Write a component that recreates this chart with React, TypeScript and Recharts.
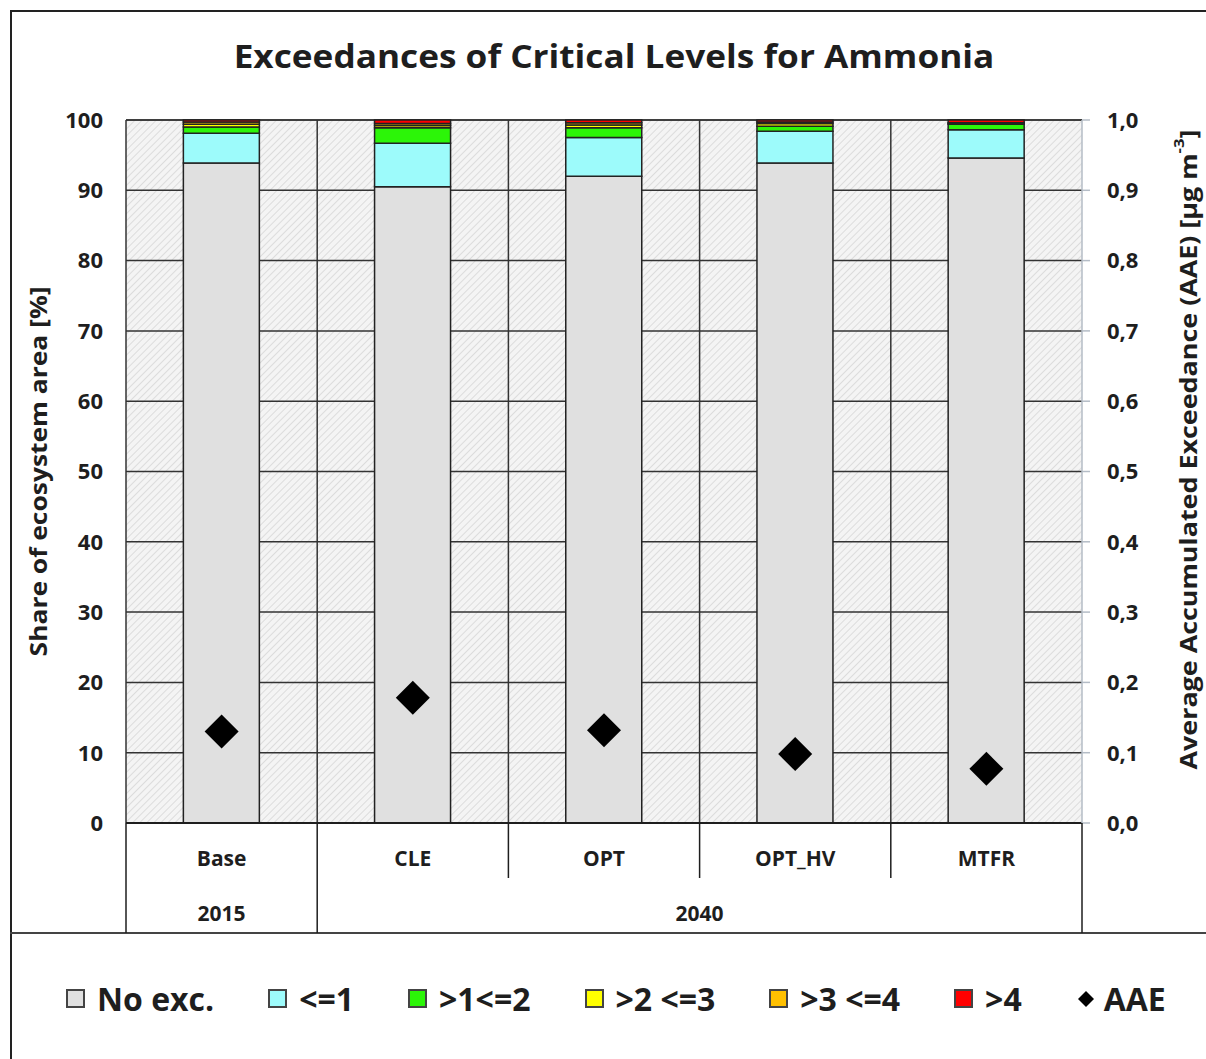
import React from "react";
import { ComposedChart, Bar, Scatter, XAxis, YAxis, CartesianGrid } from "recharts";

// scenario categories and their year groups
const categories = ["Base", "CLE", "OPT", "OPT_HV", "MTFR"];
const yearGroups = [
  { label: "2015", from: 0, to: 0 },
  { label: "2040", from: 1, to: 4 },
];

// share of ecosystem area [%] per exceedance class
const noExc = [93.9, 90.5, 92.0, 93.9, 94.6];
const le1 = [4.2, 6.2, 5.5, 4.5, 4.0];
const gt1le2 = [0.9, 2.2, 1.4, 0.7, 0.8];
const gt2le3 = [0.4, 0.3, 0.4, 0.4, 0.1];
const gt3le4 = [0.3, 0.3, 0.3, 0.2, 0.1];
const gt4 = [0.3, 0.5, 0.4, 0.3, 0.4];

// average accumulated exceedance [ug m-3]
const aae = [0.13, 0.178, 0.132, 0.098, 0.077];

const leftTicks = [0, 10, 20, 30, 40, 50, 60, 70, 80, 90, 100];
const rightTicks = [0, 0.1, 0.2, 0.3, 0.4, 0.5, 0.6, 0.7, 0.8, 0.9, 1.0];

const seriesKeys = ["noExc", "le1", "gt1le2", "gt2le3", "gt3le4", "gt4"];
const seriesNames = ["No exc.", "<=1", ">1<=2", ">2 <=3", ">3 <=4", ">4"];
const seriesValues = [noExc, le1, gt1le2, gt2le3, gt3le4, gt4];
const seriesColors = ["#e0e0e0", "#9dfbfb", "#2cf508", "#ffff00", "#ffc000", "#ff0000"];

const data = categories.map((name, i) => {
  const row: Record<string, number | string> = { name, aae: aae[i] };
  seriesKeys.forEach((k, s) => (row[k] = seriesValues[s][i]));
  return row;
});

const W = 1206;
const H = 1059;
const MARGIN = { top: 120, right: 24, bottom: 126, left: 26 };
const Y_W = 100;
const X_H = 110;
const PLOT_W = W - MARGIN.left - MARGIN.right - 2 * Y_W;
const BAND = PLOT_W / categories.length;
const FONT = "'Open Sans', Lato, sans-serif";
const INK = "#1e1e1e";

const fmtComma = (v: number) => v.toFixed(1).replace(".", ",");

function CategoryTick(props: any) {
  const { x, y, payload, index } = props;
  const group = yearGroups.find((g) => g.from === index);
  const last = index === categories.length - 1;
  return (
    <g>
      <line x1={x - BAND / 2} y1={y} x2={x - BAND / 2} y2={y + (group ? 110 : 55)} stroke={INK} strokeWidth={1.5} />
      {last && <line x1={x + BAND / 2} y1={y} x2={x + BAND / 2} y2={y + 110} stroke={INK} strokeWidth={1.5} />}
      <text x={x} y={y + 35} textAnchor="middle" dominantBaseline="central" fontFamily={FONT} fontWeight={700} fontSize={21} fill={INK}>
        {payload.value}
      </text>
      {group && (
        <text
          x={x + ((group.to - group.from) * BAND) / 2}
          y={y + 90}
          textAnchor="middle"
          dominantBaseline="central"
          fontFamily={FONT}
          fontWeight={700}
          fontSize={21}
          fill={INK}
        >
          {group.label}
        </text>
      )}
    </g>
  );
}

function Diamond(props: any) {
  const { cx, cy } = props;
  const r = 17;
  return <path d={`M${cx},${cy - r}L${cx + r},${cy}L${cx},${cy + r}L${cx - r},${cy}Z`} fill="#000" />;
}

function LegendBox({ color }: { color: string }) {
  return (
    <span
      style={{
        display: "inline-block",
        width: 15,
        height: 15,
        background: color,
        border: "2px solid #444",
        marginRight: 12,
      }}
    />
  );
}

export default function App() {
  return (
    <div style={{ position: "absolute", left: 0, top: 0, width: W, height: H, overflow: "hidden", background: "#fff", fontFamily: FONT }}>
      <svg width={0} height={0} style={{ position: "absolute" }}>
        <defs>
          <pattern id="hatch" width={5} height={5} patternUnits="userSpaceOnUse" patternTransform="rotate(45)">
            <rect width={5} height={5} fill="#f4f4f4" />
            <line x1={0} y1={0} x2={0} y2={5} stroke="#d2d2d2" strokeWidth={1.4} />
          </pattern>
        </defs>
      </svg>
      <div style={{ position: "absolute", left: 10, top: 10, width: 1400, height: 1400, borderLeft: "2px solid #222", borderTop: "2px solid #222" }} />
      <div style={{ position: "absolute", left: 10, top: 932, width: 1400, height: 2, background: "#444" }} />
      <div
        style={{
          position: "absolute",
          left: 614,
          top: 36,
          transform: "translateX(-50%) scaleX(1.1)",
          whiteSpace: "nowrap",
          fontSize: 32,
          lineHeight: "40px",
          fontWeight: 700,
          color: INK,
        }}
      >
        Exceedances of Critical Levels for Ammonia
      </div>
      <ComposedChart width={W} height={H} data={data} margin={MARGIN} barCategoryGap="30%" style={{ position: "absolute", left: 0, top: 0 }}>
        <CartesianGrid
          yAxisId="left"
          fill="url(#hatch)"
          fillOpacity={1}
          stroke="#333"
          strokeWidth={1.5}
          verticalCoordinatesGenerator={({ offset }: any) =>
            categories.map((_, i) => offset.left + (i * offset.width) / categories.length)
          }
        />
        <XAxis
          dataKey="name"
          height={X_H}
          tickSize={0}
          tickMargin={0}
          axisLine={{ stroke: INK, strokeWidth: 2 }}
          tick={<CategoryTick />}
          interval={0}
        />
        <YAxis
          yAxisId="left"
          width={Y_W}
          domain={[0, 100]}
          ticks={leftTicks}
          axisLine={false}
          tickLine={false}
          tickSize={6}
          tickMargin={17}
          tick={{ fill: INK, fontSize: 22, fontWeight: 700, fontFamily: FONT }}
          label={{
            content: ({ viewBox }: any) => {
              const cx = viewBox.x + 11;
              const cy = viewBox.y + viewBox.height / 2;
              return (
                <text
                  x={0}
                  y={0}
                  transform={`translate(${cx} ${cy}) rotate(-90) scale(1.1 1)`}
                  textAnchor="middle"
                  dominantBaseline="central"
                  fontFamily={FONT}
                  fontWeight={700}
                  fontSize={24}
                  fill={INK}
                >
                  Share of ecosystem area [%]
                </text>
              );
            },
          }}
        />
        <YAxis
          yAxisId="right"
          orientation="right"
          width={Y_W}
          domain={[0, 1]}
          ticks={rightTicks}
          tickFormatter={fmtComma}
          axisLine={{ stroke: "#b4bcc6", strokeWidth: 1.5 }}
          tickLine={{ stroke: "#b4bcc6", strokeWidth: 1.5 }}
          tickSize={8}
          tickMargin={17}
          tick={{ fill: INK, fontSize: 22, fontWeight: 700, fontFamily: FONT, textAnchor: "start" }}
          label={{
            content: ({ viewBox }: any) => {
              const cx = viewBox.x + 106;
              const cy = viewBox.y + viewBox.height / 2 - 22;
              return (
                <text
                  x={0}
                  y={0}
                  transform={`translate(${cx} ${cy}) rotate(-90) scale(1.12 1)`}
                  textAnchor="middle"
                  dominantBaseline="central"
                  fontFamily={FONT}
                  fontWeight={700}
                  fontSize={24}
                  fill={INK}
                >
                  Average Accumulated Exceedance (AAE) [µg m
                  <tspan dy={-10} fontSize={15}>-3</tspan>
                  <tspan dy={10}>]</tspan>
                </text>
              );
            },
          }}
        />
        {seriesKeys.map((k, s) => (
          <Bar
            key={k}
            yAxisId="left"
            dataKey={k}
            name={seriesNames[s]}
            stackId="share"
            fill={seriesColors[s]}
            stroke="#222"
            strokeWidth={1.5}
            isAnimationActive={false}
          />
        ))}
        <Scatter yAxisId="right" dataKey="aae" name="AAE" shape={<Diamond />} isAnimationActive={false} />
      </ComposedChart>
      <div
        style={{
          position: "absolute",
          left: 66,
          top: 977,
          display: "flex",
          alignItems: "center",
          fontSize: 32,
          letterSpacing: 0,
          fontWeight: 700,
          color: INK,
          whiteSpace: "nowrap",
        }}
      >
        {seriesNames.map((n, s) => (
          <span key={n} style={{ display: "inline-flex", alignItems: "center", marginRight: 54 }}>
            <LegendBox color={seriesColors[s]} />
            {n}
          </span>
        ))}
        <span style={{ display: "inline-flex", alignItems: "center" }}>
          <svg width={20} height={20} style={{ marginRight: 8 }}>
            <path d="M10,2L18,10L10,18L2,10Z" fill="#000" />
          </svg>
          AAE
        </span>
      </div>
    </div>
  );
}
